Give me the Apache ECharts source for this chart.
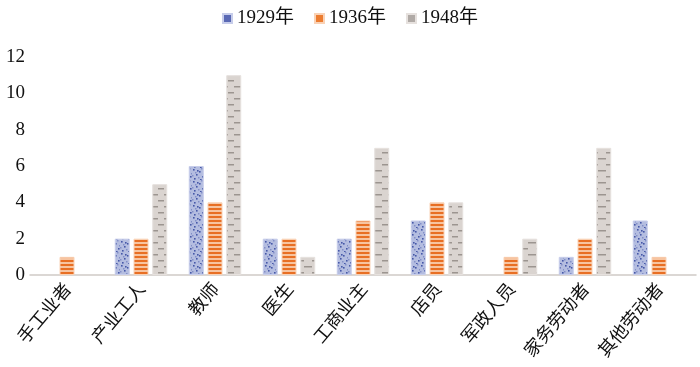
<!DOCTYPE html>
<html><head><meta charset="utf-8">
<script src="https://cdn.jsdelivr.net/npm/echarts@6/dist/echarts.min.js"></script>
<style>html,body{margin:0;padding:0;background:#fff}#c{width:700px;height:367px}</style>
</head><body><div id="c"></div>
<script>
var categories = ['手工业者','产业工人','教师','医生','工商业主','店员','军政人员','家务劳动者','其他劳动者'];
var seriesNames = ['1929年','1936年','1948年'];
var v1929 = [null, 2, 6, 2, 2, 3, null, 1, 3];
var v1936 = [1, 2, 4, 2, 3, 4, 1, 2, 1];
var v1948 = [null, 5, 11, 1, 7, 4, 2, 7, null];
var yTicks = [0, 2, 4, 6, 8, 10, 12];

function dotPattern(){
  var c = document.createElement('canvas'); c.width = 12; c.height = 12;
  var g = c.getContext('2d');
  g.fillStyle = '#b4bde0'; g.fillRect(0,0,12,12);
  g.fillStyle = '#4658a8';
  [[1,1],[7,3],[4,6],[10,8],[2,10],[8,11],[5,2]].forEach(function(p){ g.fillRect(p[0],p[1],1.6,1.6); });
  g.fillStyle = '#8390c8';
  [[3,4],[9,0],[0,7],[6,9],[11,5]].forEach(function(p){ g.fillRect(p[0],p[1],1.5,1.5); });
  return c;
}
function stripePattern(){
  var c = document.createElement('canvas'); c.width = 4; c.height = 4;
  var g = c.getContext('2d');
  g.fillStyle = '#f7c4a0'; g.fillRect(0,0,4,4);
  g.fillStyle = '#e86f24'; g.fillRect(0,0,4,2);
  return c;
}
function dashPattern(){
  var c = document.createElement('canvas'); c.width = 14; c.height = 12;
  var g = c.getContext('2d');
  g.fillStyle = '#dad4d0'; g.fillRect(0,0,14,12);
  g.fillStyle = '#9c9590';
  g.fillRect(0,2,4,1.5); g.fillRect(10,2,4,1.5);
  g.fillRect(4,8,6,1.5);
  return c;
}
var pats = [dotPattern(), stripePattern(), dashPattern()];
var legendColors = ['#5a69b4', '#ec7c30', '#b0aaa6'];
var borders = ['#c7cdea', '#f9d2b6', '#e6e1de'];
var data = [v1929, v1936, v1948];

var chart = echarts.init(document.getElementById('c'));
chart.setOption({
  animation: false,
  legend: {
    top: 4, left: 'center', itemWidth: 9, itemHeight: 9, itemGap: 20,
    textStyle: { fontFamily: 'Liberation Serif, Noto Sans CJK SC', fontSize: 19, color: '#111' },
    data: seriesNames.map(function(n, i){ return { name: n, icon: 'rect', itemStyle: { color: legendColors[i] } }; })
  },
  grid: { left: 30, right: 4, top: 57, bottom: 92, containLabel: false },
  xAxis: {
    type: 'category', data: categories,
    axisLine: { lineStyle: { color: '#cfcac6', width: 1.5 } },
    axisTick: { show: false },
    axisLabel: { rotate: 50, interval: 0, margin: 10, fontSize: 18, color: '#111', fontFamily: 'Noto Sans CJK SC' }
  },
  yAxis: {
    type: 'value', min: 0, max: 12, interval: 2,
    splitLine: { show: false }, axisLine: { show: false }, axisTick: { show: false },
    axisLabel: { fontSize: 19, color: '#111', fontFamily: 'Liberation Serif', margin: 5 }
  },
  series: data.map(function(d, i){
    return {
      name: seriesNames[i], type: 'bar', data: d,
      barWidth: 15, barGap: '25%',
      itemStyle: { color: { image: pats[i], repeat: 'repeat' }, borderColor: borders[i], borderWidth: 1 }
    };
  })
});
</script></body></html>
